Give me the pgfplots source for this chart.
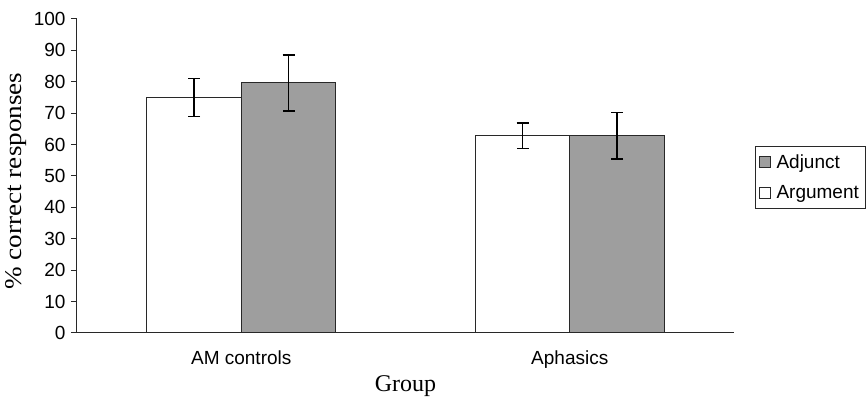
\documentclass[border=0pt]{standalone}
\usepackage{fontspec}
\setmainfont{Liberation Sans}
\newfontfamily\seriffont{Liberation Serif}
\usepackage{pgfplots}
\pgfplotsset{compat=1.18}
\definecolor{bargray}{RGB}{158,158,158}
\definecolor{edge}{RGB}{40,40,40}
\begin{document}
\begin{tikzpicture}
\begin{axis}[
  name=ax,
  scale only axis,
  width=657pt, height=314pt,
  ymin=0, ymax=100,
  xmin=-0.5, xmax=1.5,
  ytick={0,10,...,100},
  xtick={0,1},
  xticklabels={AM controls, Aphasics},
  axis x line=bottom, axis y line=left,
  axis line style={-, draw=edge, line width=1pt},
  x tick style={draw=none},
  y tick style={draw=edge, line width=1pt},
  tick align=outside,
  major tick length=6pt,
  extra x ticks={0.5},
  extra x tick labels={},
  extra x tick style={tick style={draw=edge, line width=1pt}},
  /pgf/number format/assume math mode=true,
  tick label style={font=\fontsize{19}{22}\selectfont},
  yticklabel style={xshift=-2pt},
  xticklabel style={yshift=-8pt},
  ylabel={\scalebox{1.13}[1]{\seriffont\% correct responses}},
  xlabel={\seriffont Group},
  label style={font=\fontsize{24}{26}\selectfont},
  ylabel style={at={(ticklabel cs:0.484)}},
  xlabel style={yshift=11pt},
  ybar=0pt,
  bar width=94.5pt,
  reverse legend,
  legend style={at={(1.032,0.595)}, anchor=north west, draw=edge, line width=0.8pt,
    font=\fontsize{19}{22}\selectfont, row sep=12pt, inner xsep=4pt, inner ysep=6pt,
    cells={anchor=west}},
  error bars/y dir=both,
  error bars/y explicit,
  error bars/error bar style={black, line width=1.5pt},
  error bars/error mark options={rotate=90, mark size=6pt, line width=1.5pt, black},
]
\addplot[fill=white, draw=edge, line width=1.2pt,
  legend image code/.code={\draw[fill=white, draw=edge, line width=1pt] (0pt,-5pt) rectangle (11pt,6pt); \path (14pt,0pt);}]
 coordinates {
  (0,75) += (0,6) -= (0,6)
  (1,63) += (0,3.8) -= (0,4.2)
};
\addlegendentry{Argument}
\addplot[fill=bargray, draw=edge, line width=1.2pt,
  legend image code/.code={\draw[fill=bargray, draw=edge, line width=1pt] (0pt,-5pt) rectangle (11pt,6pt); \path (14pt,0pt);}]
 coordinates {
  (0,79.7) += (0,8.8) -= (0,9)
  (1,63) += (0,7.3) -= (0,7.6)
};
\addlegendentry{Adjunct}
\end{axis}
\pgfresetboundingbox
\path[use as bounding box] ([xshift=-77pt,yshift=-65pt]ax.south west) rectangle ([xshift=790pt,yshift=333pt]ax.south west);
\end{tikzpicture}
\end{document}
